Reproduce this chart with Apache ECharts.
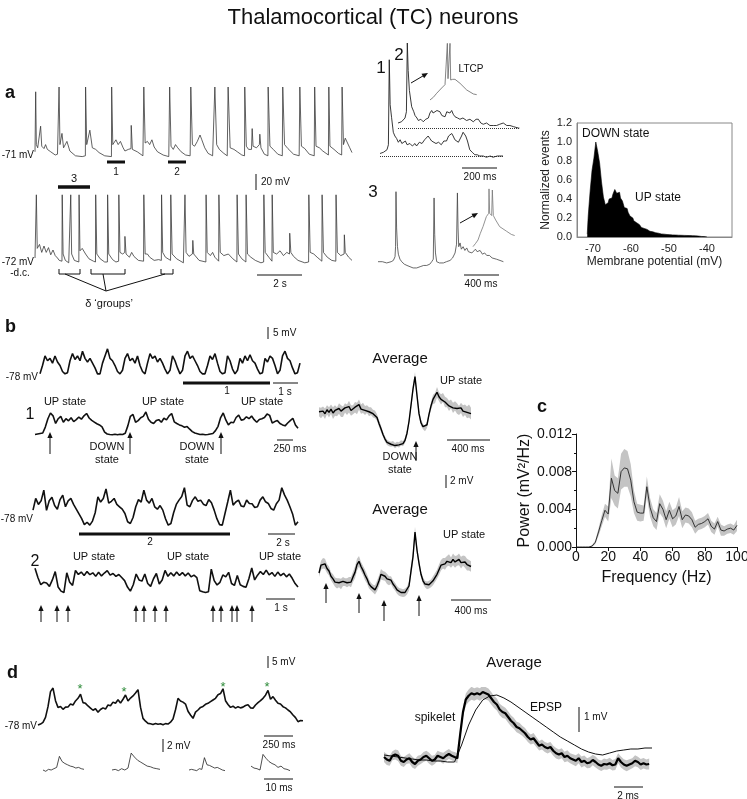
<!DOCTYPE html>
<html>
<head>
<meta charset="utf-8">
<title>Thalamocortical (TC) neurons</title>
<script src="https://cdn.jsdelivr.net/npm/echarts@6/dist/echarts.min.js"></script>
<style>
html, body { margin: 0; padding: 0; background: #fff; }
#fig { width: 747px; height: 799px; }
</style>
</head>
<body>
<div id="fig"></div>
<script>
var FONT = 'Liberation Sans, Arial, sans-serif';

// ---- panel a: long recordings, [time s, mV]
var aTop = [
  [0,-67],[0.02,-66],[0.03,8],[0.06,-58],[0.12,-62],[0.2,-62],[0.25,-35],[0.3,-60],[0.4,-63],[0.47,-58],[0.55,-64],[0.7,-67],[0.9,-71],[1.0,-70],
  [1.06,-70],[1.07,14],[1.11,-58],[1.2,-44],[1.27,-62],[1.42,-54],[1.55,-66],[1.8,-72],[2.1,-73],[2.24,-72],
  [2.25,14],[2.3,-58],[2.44,-40],[2.55,-62],[2.7,-64],[2.85,-68],[3.1,-72],[3.4,-73],
  [3.41,14],[3.46,-58],[3.6,-52],[3.7,-58],[3.8,-54],[3.92,-62],[4.0,-66],[4.15,-64],[4.27,-63],[4.28,-34],[4.33,-64],[4.55,-67],[4.8,-72],
  [4.84,14],[4.9,-56],[5.0,-54],[5.1,-58],[5.2,-52],[5.3,-61],[5.45,-67],[5.7,-71],[5.95,-73],
  [5.99,14],[6.05,-60],[6.15,-64],[6.25,-58],[6.35,-62],[6.5,-67],[6.7,-71],[6.9,-72],
  [6.93,14],[7.0,-58],[7.1,-60],[7.22,-54],[7.34,-46],[7.42,-52],[7.55,-62],[7.7,-69],[7.9,-72],
  [8.0,14],[8.08,-58],[8.2,-64],[8.4,-69],[8.55,-72],
  [8.59,14],[8.68,-62],[8.85,-64],[9.0,-67],[9.2,-71],[9.32,-72],
  [9.33,14],[9.4,-60],[9.5,-64],[9.63,-64],[9.66,-38],[9.7,-60],[9.85,-62],[9.98,-58],[10.0,-45],[10.05,-62],[10.2,-70],[10.36,-72],
  [10.37,14],[10.45,-60],[10.6,-64],[10.8,-70],[11.0,-72],
  [11.02,14],[11.1,-58],[11.25,-63],[11.5,-70],[11.75,-72],
  [11.78,14],[11.85,-60],[12.0,-63],[12.2,-70],[12.42,-72],
  [12.44,14],[12.5,-60],[12.65,-62],[12.8,-66],[13.05,-71],
  [13.07,14],[13.12,-60],[13.3,-64],[13.5,-69],[13.64,-71],
  [13.66,14],[13.72,-58],[13.8,-50],[13.9,-56],[14.0,-62],[14.1,-68]
];
var aBottom = [
  [0,-67],[0.05,-66],[0.06,12],[0.1,-55],[0.2,-50],[0.3,-60],[0.4,-52],[0.5,-60],[0.6,-54],[0.7,-63],[0.8,-57],[0.9,-64],[1.0,-67],[1.08,-70],
  [1.2,-71],[1.21,12],[1.25,-62],[1.35,-70],[1.5,-73],[1.58,-72],[1.59,12],[1.63,-62],[1.75,-70],[1.95,-72],[1.96,12],[2.0,-58],[2.1,-55],[2.25,-62],[2.4,-68],[2.6,-71],[2.69,-72],
  [2.7,12],[2.75,-62],[2.9,-68],[3.1,-72],[3.22,-72],[3.23,12],[3.28,-62],[3.45,-69],[3.6,-72],[3.72,-71],[3.73,12],[3.78,-60],[3.9,-62],[3.99,-60],[4.0,-40],[4.05,-62],[4.2,-66],[4.3,-60],[4.4,-65],[4.6,-70],[4.83,-71],
  [4.84,12],[4.9,-62],[5.0,-62],[5.1,-66],[5.3,-70],[5.5,-69],[5.62,-70],[5.63,12],[5.68,-60],[5.8,-66],[6.03,-70],[6.04,12],[6.1,-62],[6.3,-68],[6.6,-73],[6.66,-72],[6.67,12],[6.72,-60],[6.85,-65],[7.0,-62],[7.02,-45],[7.06,-62],[7.3,-70],[7.6,-72],
  [7.61,12],[7.66,-60],[7.8,-64],[7.9,-60],[8.0,-66],[8.17,-71],[8.18,12],[8.24,-60],[8.4,-64],[8.6,-62],[8.8,-68],[8.98,-72],[8.99,12],[9.05,-62],[9.2,-68],[9.38,-72],[9.39,12],[9.45,-62],[9.6,-66],[9.8,-70],[10.05,-73],[10.17,-72],
  [10.18,12],[10.24,-60],[10.4,-66],[10.54,-71],[10.55,12],[10.6,-60],[10.75,-62],[10.9,-58],[11.05,-64],[11.2,-60],[11.32,-62],[11.33,-36],[11.38,-60],[11.5,-65],[11.7,-70],[12.0,-73],[12.17,-72],
  [12.18,12],[12.24,-60],[12.4,-62],[12.55,-66],[12.76,-71],[12.77,12],[12.83,-60],[13.0,-66],[13.2,-70],[13.38,-71],[13.39,12],[13.45,-60],[13.6,-64],[13.75,-62],[13.76,-38],[13.8,-60],[13.95,-66],[14.1,-70]
];
// expanded segments 1, 2, LTCP, 3 [ms, mV]
var seg1 = [[0,-69],[20,-68],[40,-66],[48,-62],[53,6],[58,-30],[66,-40],[76,-52],[85,-55],[95,-57],[105,-60],[115,-58],[125,-61],[133,-61],[145,-59],[155,-62],[171,-61],[185,-63],[200,-61],[209,-63],[225,-60],[240,-61],[255,-58],[266,-58],[275,-55],[285,-57],[295,-59],[304,-59],[320,-61],[335,-60],[350,-62],[365,-59],[380,-59],[392,-55],[399,-56],[410,-53],[418,-55],[428,-58],[437,-57],[448,-60],[456,-59],[466,-55],[475,-52],[483,-53],[490,-55],[500,-59],[513,-66],[527,-68],[542,-70],[556,-70],[570,-71],[590,-71],[608,-72],[630,-71],[646,-72],[670,-71],[703,-71]];
var seg2 = [[0,-67],[20,-66],[40,-63],[48,-58],[53,-3],[58,-25],[65,-41],[78,-54],[90,-58],[97,-61],[108,-63],[116,-65],[130,-64],[144,-66],[158,-64],[173,-63],[182,-59],[192,-57],[200,-59],[211,-60],[222,-57],[239,-58],[250,-61],[268,-62],[278,-58],[287,-57],[296,-59],[306,-57],[315,-60],[325,-62],[340,-63],[353,-64],[370,-63],[391,-65],[410,-64],[429,-66],[445,-64],[458,-64],[472,-67],[486,-68],[505,-67],[524,-69],[545,-69],[562,-69],[580,-68],[600,-67],[620,-69],[638,-69],[660,-70],[686,-71],[692,-71]];
var ltcp = [[0,-70],[10,-66],[20,-60],[35,-52],[45,-47],[50,-44],[52,15],[54,-38],[58,-38],[60,15],[62,-40],[68,-39],[75,-39],[90,-45],[110,-55],[130,-61],[140,-62]];
var seg3 = [[0,-72],[50,-72],[99,-73],[150,-72],[175,-71],[194,-68],[200,-60],[205,-16],[212,-45],[222,-60],[232,-66],[250,-70],[270,-72],[300,-74],[330,-75],[365,-76],[400,-77],[441,-77],[480,-76],[520,-75],[555,-75],[590,-74],[612,-72],[630,-70],[639,-21],[646,-50],[655,-65],[669,-72],[700,-73],[745,-73],[780,-72],[821,-71],[850,-69],[878,-65],[895,-58],[905,-17],[912,-45],[920,-60],[935,-57],[950,-62],[970,-60],[990,-63],[1011,-61],[1030,-64],[1050,-63],[1070,-65],[1087,-64],[1110,-62],[1130,-64],[1163,-63],[1190,-66],[1215,-65],[1239,-67],[1270,-67],[1300,-69],[1315,-69],[1350,-70],[1390,-71],[1429,-72]];
var seg3Zoom = [[0,-70],[8,-67],[15,-64],[22,-58],[30,-52],[40,-43],[47,-40],[48,-18],[50,-40],[56,-42],[58,-19],[61,-42],[68,-46],[80,-52],[100,-56],[115,-59],[125,-60]];

// histogram of membrane potential
var histStart = -71.5, histStep = 0.5;
var histCounts = [0.03,0.22,0.48,0.7,0.83,1.0,0.9,0.78,0.58,0.42,0.34,0.36,0.4,0.41,0.45,0.5,0.46,0.47,0.41,0.38,0.31,0.3,0.26,0.22,0.2,0.17,0.15,0.13,0.12,0.1,0.09,0.08,0.07,0.06,0.055,0.05,0.045,0.04,0.035,0.032,0.03,0.028,0.026,0.025,0.024,0.022,0.021,0.02,0.019,0.018,0.018,0.017,0.016,0.015,0.015,0.014,0.013,0.012,0.01,0.009,0.006,0.004,0.002,0.0];

// ---- panel b: traces sampled at a fixed step (mV)
var bTop = [-77.5,-74,-70,-72,-71,-73,-70,-72.5,-74,-76.5,
  -77.5,-77,-72,-69,-71.5,-70,-72,-68,-71,-72.5,
  -71,-73,-75,-77.5,-77.5,-73,-70,-67,-71,-72,
  -74,-76.5,-77.5,-76,-71,-69,-72,-71,-73,-70,
  -74,-76.5,-77.5,-73,-69,-71,-70,-72.5,-71,-73,
  -75.5,-77.5,-76,-70,-72,-75,-77.5,-76,-70,-68,
  -71,-70,-72,-74,-76.5,-77.5,-77.5,-74,-70,-71.5,
  -69,-73,-76.5,-77.5,-77,-70,-72,-75.5,-77.5,-76,
  -71,-73,-70,-72,-69.5,-72,-73,-75.5,-77.5,-77,
  -71,-72.5,-70,-71,-74,-77.5,-76,-70,-68,-71,
  -72,-75,-77.5,-77,-73];
var b1 = [-78.6,-78.4,-78.2,-78,-75.5,-72,-69.6,-70.8,-74,-72,
  -71,-73.5,-72,-72.9,-71.6,-73.2,-72.4,-71.3,-72.2,-70.8,
  -69.8,-71.7,-72.7,-73.4,-74.1,-74.6,-75.4,-77.6,-78.4,-78.6,
  -78.7,-78.5,-78.7,-78.5,-78.6,-78.1,-75,-71,-70.2,-73.5,
  -72.8,-71.6,-71,-69.2,-72.2,-73.5,-74,-72.8,-72.4,-73.5,
  -71.8,-72.5,-70.8,-69.8,-73.3,-74,-74.6,-75,-75.6,-75.3,
  -76.4,-77.4,-78,-78.3,-78.6,-78.5,-78.7,-78.6,-78.4,-78.2,
  -77,-75.2,-71.5,-69.6,-72.5,-74.6,-73.5,-73.7,-71.5,-70.5,
  -72.6,-72.3,-71.2,-72,-70.9,-72.4,-73.5,-72.3,-72,-71.5,
  -70,-70.6,-73.8,-73.2,-72.8,-74,-74.6,-75,-73.8,-72.8,
  -71.8,-74.6,-76];
var b2Top = [-70.9,-66,-68.5,-67,-62.5,-71,-67,-65.5,-69,-70.5,
  -66.5,-64.6,-69.5,-67,-66,-68.5,-70.5,-72.5,-74.5,-77,
  -76,-77.2,-75.5,-72,-65.3,-67.5,-66,-62,-68,-67.2,
  -66,-68.5,-69.5,-70.5,-72.3,-75.8,-76.5,-74,-69.5,-66.5,
  -67.5,-62.5,-66.7,-68,-66,-69.5,-70.5,-69,-70.9,-74.5,
  -77.2,-76.5,-72,-68.5,-66.7,-65.2,-61.5,-68.8,-69.5,-66.8,
  -65.3,-67.2,-66.7,-68.4,-69,-66.5,-67.8,-70.9,-74.5,-77,
  -77.2,-72.3,-67.5,-62.5,-68.8,-67.5,-66.7,-69.2,-69.5,-66.7,
  -68.1,-68.2,-69.8,-69.5,-66.7,-65.3,-67.4,-68.1,-70.2,-70.9,
  -68.2,-66.7,-61.5,-64.5,-66.7,-69.5,-72.5,-77.2,-75.8];
var b2 = [-67.6,-71.5,-74.5,-73.5,-73.8,-75.2,-72.5,-69,-75.5,-77.2,
  -77.8,-69.5,-73.5,-74.8,-68.5,-70.2,-69.2,-70.6,-69,-70.3,
  -69.5,-71,-69.3,-70.8,-69.6,-68.6,-70.5,-69.8,-71,-70.2,
  -71.5,-72.8,-75.5,-77.2,-74.5,-70,-72.5,-73,-70,-74,
  -75.2,-72,-69.8,-74.2,-72.5,-68.5,-71,-69.5,-70.8,-69.2,
  -70.6,-69.4,-70.8,-69.6,-71.2,-70.5,-71.5,-77,-77.5,-77.8,
  -77.5,-68,-72.8,-74.6,-73.5,-70.4,-71.2,-69.3,-74,-74.8,
  -70.6,-74.5,-75.2,-75.6,-72,-67.5,-72.5,-70.5,-69,-70.2,
  -68.4,-70.4,-69.4,-71,-69.2,-70.7,-69.7,-71.2,-70,-71.8,
  -74,-75.5];
// averages (relative mV) and their spread
var avg1 = [0.5,0.3,0.6,0.2,0.8,0.4,0.9,0.3,0.7,0.5,
  1.0,0.6,0.5,1.1,0.8,1.3,0.7,0.8,1.2,1.0,
  1.6,0.9,1.1,0.7,0.9,0.5,0.6,0.2,0.1,-0.4,
  -1.3,-2.1,-3.0,-3.7,-4.2,-4.4,-4.5,-4.4,-4.7,-4.5,
  -4.6,-4.3,-4.4,-3.9,-2.8,-1.0,1.5,4.0,5.9,3.0,
  0.2,-1.2,-1.8,-2.1,-1.5,0.1,1.4,2.4,2.6,3.5,
  2.8,2.4,2.7,2.0,1.9,1.4,1.7,1.1,1.4,1.0,
  0.7,1.1,0.6,0.8,0.4,0.6,0.2];
var avg1Sd = [0.7,0.8,0.7,0.8,0.7,0.8,0.7,0.9,0.8,0.7,
  0.8,0.9,0.8,0.7,0.8,0.9,0.8,0.7,0.8,0.9,
  0.8,0.7,0.8,0.7,0.6,0.7,0.6,0.6,0.6,0.5,
  0.5,0.5,0.4,0.4,0.4,0.4,0.4,0.4,0.4,0.4,
  0.4,0.4,0.4,0.4,0.5,0.5,0.6,0.7,0.7,0.6,
  0.5,0.5,0.4,0.4,0.5,0.5,0.6,0.7,0.8,0.8,
  0.7,0.8,0.7,0.8,0.7,0.8,0.7,0.8,0.7,0.8,
  0.7,0.8,0.9,0.8,0.9,1.0,0.9];
var avg2 = [0.0,1.2,1.5,1.4,0.7,0.3,-0.5,-0.9,-1.4,-1.6,
  -1.5,-1.7,-1.3,-1.4,-1.5,-1.3,-1.4,-0.6,0.1,1.3,
  1.8,1.0,0.4,-0.3,-0.9,-1.7,-2.1,-2.4,-2.6,-2.0,
  -1.2,-0.2,-0.4,-0.5,-0.9,-1.2,-1.1,-1.7,-2.1,-2.6,
  -2.9,-3.0,-3.1,-3.0,-2.7,-2.0,0.3,2.5,6.3,3.5,
  1.5,-0.2,-1.2,-1.7,-1.9,-1.8,-1.6,-1.2,-0.7,-0.2,
  0.5,1.2,1.5,1.4,1.8,2.0,1.6,2.1,1.7,1.9,
  2.1,1.6,1.9,1.7,1.3,1.2,1.0];
var avg2Sd = [0.6,0.7,0.8,0.8,0.7,0.7,0.6,0.7,0.7,0.8,
  0.7,0.8,0.7,0.6,0.7,0.7,0.8,0.8,0.9,0.9,
  0.8,0.7,0.7,0.8,0.7,0.7,0.6,0.6,0.7,0.8,
  0.8,0.8,0.7,0.7,0.8,0.7,0.6,0.6,0.6,0.6,
  0.6,0.6,0.6,0.6,0.6,0.7,0.8,0.9,0.8,0.7,
  0.6,0.5,0.5,0.5,0.6,0.6,0.6,0.7,0.7,0.7,
  0.8,0.8,0.8,0.9,0.8,0.9,0.8,0.9,0.9,0.8,
  0.9,0.9,0.8,0.9,0.9,0.8,0.8];

// ---- panel c: power spectrum
var freqs = [0,2,4,6,8,10,12,14,16,18,20,22,24,26,28,30,32,34,36,38,40,42,44,46,48,50,52,54,56,58,60,62,64,66,68,70,72,74,76,78,80,82,84,86,88,90,92,94,96,98,100];
var power = [0,0,0,0,0,0.0001,0.0005,0.0016,0.0028,0.0039,
  0.0035,0.0073,0.006,0.0057,0.008,0.0084,0.0083,0.0071,0.0048,0.0037,
  0.0036,0.0036,0.0064,0.0042,0.0031,0.0027,0.0046,0.004,0.0029,0.0039,
  0.003,0.0033,0.0043,0.0029,0.0034,0.0033,0.0029,0.0021,0.0024,0.0025,
  0.0027,0.003,0.0022,0.0019,0.0027,0.0018,0.0017,0.0019,0.002,0.0018,
  0.0023];
var powerSem = [0,0,0,0,0,0.0001,0.0002,0.0004,0.0006,0.0007,
  0.0008,0.0021,0.0016,0.0016,0.0019,0.002,0.0019,0.0017,0.0012,0.0009,
  0.0009,0.0008,0.0011,0.001,0.0009,0.0009,0.001,0.0009,0.0009,0.0009,
  0.0009,0.0009,0.001,0.0009,0.0008,0.0008,0.0008,0.0007,0.0006,0.0006,
  0.0006,0.0006,0.0006,0.0006,0.0005,0.0006,0.0005,0.0005,0.0005,0.0005,
  0.0006];

// ---- panel d
var dTrace = [-78,-77.6,-76.9,-74.8,-70.3,-64,-62.5,-67.8,-70.6,-70.2,
  -71.4,-70.5,-70.4,-69.2,-69.6,-67.9,-66.8,-65.1,-68.6,-68.9,
  -70,-70.9,-71.8,-71.2,-72.6,-71.5,-70.8,-71.3,-69.6,-69.9,
  -68.4,-68.9,-67.4,-68.8,-67.2,-65.4,-67.9,-66.7,-65.8,-64.6,
  -63.2,-70.5,-75.2,-76.4,-77.3,-77.5,-77.8,-77.4,-77.7,-77.5,
  -77.9,-77.4,-77.6,-76.8,-75.5,-71.6,-66.8,-67.9,-68.4,-69.2,
  -72.2,-73.8,-75.2,-72.6,-71.7,-70.6,-70.2,-69.3,-68.9,-68.2,
  -67.5,-66.8,-65.3,-64.8,-62.8,-67.8,-69.4,-70.6,-70.1,-70.9,
  -70.3,-70.8,-70.5,-69.8,-69.5,-70.8,-71,-69.6,-68.6,-67.8,
  -66.8,-65.5,-63.5,-67.2,-66.1,-67.6,-68.9,-69.2,-70.3,-70.8,
  -71.7,-72.5,-73.8,-74.9,-76.6,-76.1,-76.2];
var spk1 = [0,-0.2,0.1,0,0.2,0.4,2.1,1.3,1.0,0.8,0.6,0.5,0.3,0.4,0.2,0.1];
var spk2 = [0,0.1,-0.1,0.2,0,0.3,2.6,2.0,1.5,1.2,0.9,0.6,0.5,0.3,0.2,0.1];
var spk3 = [0,0.1,0,-0.1,0.2,0.1,1.9,0.8,0.7,0.5,0.3,0.4,0.2,0,-0.1];
var spk4 = [0.6,0.3,0.2,0,2.4,1.8,1.3,1.0,0.8,0.4,0.6,0.2,0.1,-0.1];
var spikeletAvg = [0.0,-0.1,-0.15,0.05,0.1,0.05,-0.15,-0.2,-0.1,-0.05,
  -0.2,-0.28,-0.15,-0.1,0.0,0.05,-0.05,-0.15,-0.1,0.05,
  0.0,-0.05,0.05,0.12,0.05,0.0,-0.05,0.9,1.8,2.3,
  2.45,2.55,2.5,2.55,2.5,2.6,2.55,2.5,2.35,2.2,
  2.1,1.9,1.8,1.75,1.6,1.45,1.35,1.2,1.15,1.05,
  0.95,0.8,0.7,0.75,0.6,0.45,0.5,0.4,0.35,0.4,
  0.25,0.15,0.1,0.15,0.0,0.05,-0.05,-0.1,-0.15,-0.05,
  -0.2,-0.15,-0.25,-0.22,-0.12,-0.2,-0.3,-0.35,-0.28,-0.3,
  -0.25,-0.33,-0.3,-0.05,-0.2,-0.3,-0.35,-0.3,-0.25,-0.15,
  -0.2,-0.3,-0.25,-0.3,-0.28];
var spikeletSd = [0.2,0.22,0.2,0.18,0.2,0.22,0.2,0.2,0.18,0.2,
  0.22,0.2,0.2,0.18,0.2,0.2,0.22,0.2,0.18,0.2,
  0.2,0.22,0.2,0.2,0.18,0.2,0.2,0.2,0.22,0.24,
  0.25,0.26,0.25,0.24,0.25,0.26,0.25,0.24,0.25,0.24,
  0.24,0.23,0.24,0.22,0.23,0.22,0.22,0.21,0.22,0.2,
  0.21,0.2,0.2,0.21,0.2,0.19,0.2,0.2,0.21,0.2,
  0.2,0.21,0.2,0.2,0.21,0.22,0.2,0.21,0.22,0.2,
  0.22,0.21,0.2,0.22,0.21,0.22,0.2,0.21,0.22,0.21,
  0.22,0.21,0.22,0.2,0.22,0.21,0.22,0.21,0.2,0.22,
  0.21,0.22,0.21,0.2,0.22];
var epspAvg = [0.08,0.04,0,-0.04,-0.08,-0.12,-0.12,-0.16,-0.16,-0.2,
  -0.2,0.48,1.28,1.88,2.28,2.44,2.48,2.36,2.2,2.0,
  1.8,1.6,1.4,1.2,1.0,0.8,0.64,0.48,0.32,0.2,
  0.12,0.08,0.16,0.24,0.28,0.32,0.32,0.36,0.36];

// ------------------------------------------------------------------
var grids = [], xAxes = [], yAxes = [], series = [], G = [];

function seq(vals, dt) {
  var out = [];
  for (var i = 0; i < vals.length; i++) out.push([Math.round(i * dt * 1000) / 1000, vals[i]]);
  return out;
}
function panel(box, xr, yr) {
  var k = grids.length;
  grids.push({ left: box[0], top: box[1], width: box[2], height: box[3], containLabel: false, outerBoundsMode: 'none' });
  xAxes.push({ type: 'value', gridIndex: k, min: xr[0], max: xr[1], show: false });
  yAxes.push({ type: 'value', gridIndex: k, min: yr[0], max: yr[1], show: false });
  return k;
}
function trace(k, data, color, width, extra) {
  var s = { type: 'line', xAxisIndex: k, yAxisIndex: k, data: data, symbol: 'none', silent: true,
    lineStyle: { color: color, width: width }, z: 3 };
  for (var p in (extra || {})) s[p] = extra[p];
  series.push(s);
}
// shaded spread drawn as one polygon through the axis scales
function band(k, xs, mean, half, color, floor) {
  var up = [], lo = [];
  for (var i = 0; i < mean.length; i++) {
    var a = mean[i] - half[i];
    if (floor !== undefined) a = Math.max(floor, a);
    up.push([xs[i], mean[i] + half[i]]);
    lo.push([xs[i], a]);
  }
  series.push({ type: 'custom', xAxisIndex: k, yAxisIndex: k, silent: true, z: 2, clip: true,
    data: [[xs[0], mean[0]]],
    renderItem: function (params, api) {
      var pts = [];
      for (var i = 0; i < up.length; i++) pts.push(api.coord(up[i]));
      for (var j = lo.length - 1; j >= 0; j--) pts.push(api.coord(lo[j]));
      return { type: 'polygon', shape: { points: pts }, style: { fill: color, stroke: null } };
    } });
}
function T(x, y, s, o) {
  o = o || {};
  var al = o.align || 'center';
  G.push({ type: 'text', x: x, y: y, silent: true, z: 10, style: {
    text: s, fontSize: o.size || 11, fontWeight: o.bold ? 'bold' : 'normal', fontFamily: FONT,
    fill: o.color || '#111', textAlign: al, align: al, textVerticalAlign: 'middle', verticalAlign: 'middle' } });
}
function L(x1, y1, x2, y2, w) {
  G.push({ type: 'line', silent: true, z: 10, shape: { x1: x1, y1: y1, x2: x2, y2: y2 }, style: { stroke: '#111', lineWidth: w || 1 } });
}
function P(pts) {
  G.push({ type: 'polyline', silent: true, z: 10, shape: { points: pts }, style: { stroke: '#111', lineWidth: 1, fill: null } });
}
function A(x1, y1, x2, y2) {
  var dx = x2 - x1, dy = y2 - y1, n = Math.sqrt(dx * dx + dy * dy), ux = dx / n, uy = dy / n;
  var h = 6, w = 2.6;
  L(x1, y1, x2 - ux * h * 0.6, y2 - uy * h * 0.6, 1);
  G.push({ type: 'polygon', silent: true, z: 10, shape: { points: [
    [x2, y2], [x2 - ux * h - uy * w, y2 - uy * h + ux * w], [x2 - ux * h + uy * w, y2 - uy * h - ux * w]] },
    style: { fill: '#111' } });
}

// ---- panel a
var k;
k = panel([35, 85.4, 317, 72.8], [0, 14.1], [-75, 16]);
trace(k, aTop, '#3a3a3a', 0.8);
k = panel([35, 191.6, 317, 73.6], [0, 14.1], [-76, 16]);
trace(k, aBottom, '#3a3a3a', 0.8);
k = panel([380, 54.75, 123, 106.25], [0, 703], [-75, 10]);
trace(k, seg1, '#222', 0.9, { markLine: { silent: true, symbol: 'none', label: { show: false }, lineStyle: { type: 'dotted', color: '#333', width: 1 }, data: [{ yAxis: -71 }] } });
k = panel([398, 39.25, 121.4, 93.75], [0, 692], [-75, 0]);
trace(k, seg2, '#222', 0.9, { markLine: { silent: true, symbol: 'none', label: { show: false }, lineStyle: { type: 'dotted', color: '#333', width: 1 }, data: [{ yAxis: -71 }] } });
k = panel([430, 42.7, 46.7, 58.6], [0, 140], [-72, 16]);
trace(k, ltcp, '#666', 0.8);
k = panel([378, 189.2, 125.4, 82.5], [0, 1429], [-80, -14]);
trace(k, seg3, '#444', 0.8);
k = panel([473, 186.67, 41.67, 62.2], [0, 125], [-72, -16]);
trace(k, seg3Zoom, '#777', 0.8);

// histogram
k = grids.length;
grids.push({ left: 577, top: 123, width: 155, height: 114, containLabel: false, outerBoundsMode: 'none', show: true, borderColor: '#888', borderWidth: 1, backgroundColor: 'transparent' });
xAxes.push({ type: 'value', gridIndex: k, min: -74.2, max: -33.4,
  axisLine: { show: true, lineStyle: { color: '#888' } }, axisTick: { show: false }, splitLine: { show: false },
  axisLabel: { fontSize: 11, color: '#222', margin: 6, showMinLabel: false, showMaxLabel: false,
    formatter: function (v) { return v % 10 === 0 ? String(v) : ''; } },
  name: 'Membrane potential (mV)', nameLocation: 'middle', nameGap: 19, nameTextStyle: { fontSize: 12, color: '#222' } });
yAxes.push({ type: 'value', gridIndex: k, min: 0, max: 1.2, interval: 0.2,
  axisLine: { show: true, lineStyle: { color: '#888' } }, axisTick: { show: false }, splitLine: { show: false },
  axisLabel: { fontSize: 11, color: '#222', margin: 5, formatter: function (v) { return v.toFixed(1); } },
  name: 'Normalized events', nameLocation: 'middle', nameRotate: 90, nameGap: 25, nameTextStyle: { fontSize: 12, color: '#222' } });
var histData = histCounts.map(function (c, i) { return [histStart + i * histStep, c]; });
trace(k, histData, '#000', 0.6, { step: 'middle', areaStyle: { color: '#000', opacity: 1 } });

// ---- panel b
k = panel([40, 341.7, 260, 38.1], [0, 10.4], [-80, -64]);
trace(k, seq(bTop, 0.1), '#111', 1.6);
k = panel([35, 404.4, 263, 33.4], [0, 4.08], [-80, -66]);
trace(k, seq(b1, 0.04), '#111', 1.6);
k = panel([33, 479.4, 265, 52.4], [0, 19.6], [-80, -58]);
trace(k, seq(b2Top, 0.2), '#111', 1.6);
k = panel([35, 559.7, 263, 38.1], [0, 9.1], [-80, -64]);
trace(k, seq(b2, 0.1), '#111', 1.6);
var avgT = seq(avg1, 20).map(function (p) { return p[0]; });
k = panel([319, 369.5, 152, 84.5], [0, 1520], [-6, 7]);
band(k, avgT, avg1, avg1Sd, '#c4c4c4');
trace(k, seq(avg1, 20), '#000', 1.4);
k = panel([319, 524.25, 152, 81.25], [0, 1520], [-5, 7.5]);
band(k, avgT, avg2, avg2Sd, '#c4c4c4');
trace(k, seq(avg2, 20), '#000', 1.4);

// ---- panel c
k = grids.length;
grids.push({ left: 576, top: 434, width: 161, height: 113, containLabel: false, outerBoundsMode: 'none' });
xAxes.push({ type: 'value', gridIndex: k, min: 0, max: 100, interval: 20,
  axisLine: { show: true, lineStyle: { color: '#111' } }, axisTick: { show: true, length: 4, lineStyle: { color: '#111' } }, splitLine: { show: false },
  axisLabel: { fontSize: 14, color: '#111', margin: 3 },
  name: 'Frequency (Hz)', nameLocation: 'middle', nameGap: 23, nameTextStyle: { fontSize: 16, color: '#111' } });
yAxes.push({ type: 'value', gridIndex: k, min: 0, max: 0.012, interval: 0.004,
  axisLine: { show: true, lineStyle: { color: '#111' } }, axisTick: { show: true, length: 4, lineStyle: { color: '#111' } },
  minorTick: { show: true, splitNumber: 2, length: 2, lineStyle: { color: '#111' } }, splitLine: { show: false },
  axisLabel: { fontSize: 14, color: '#111', margin: 4, formatter: function (v) { return v.toFixed(3); } },
  name: 'Power (mV\u00b2/Hz)', nameLocation: 'middle', nameRotate: 90, nameGap: 40, nameTextStyle: { fontSize: 16, color: '#111' } });
band(k, freqs, power, powerSem, '#c4c4c4', 0);
trace(k, freqs.map(function (f, i) { return [f, power[i]]; }), '#222', 0.9);

// ---- panel d
k = panel([38, 682.1, 265, 47.7], [0, 2.12], [-80, -60]);
trace(k, seq(dTrace, 0.02), '#111', 1.6);
k = panel([43, 750.5, 41, 22.75], [0, 15], [-0.5, 3]);
trace(k, seq(spk1, 1), '#222', 0.8);
k = panel([112, 750.5, 48, 22.75], [0, 15], [-0.5, 3]);
trace(k, seq(spk2, 1), '#222', 0.8);
k = panel([189, 750.5, 36, 22.75], [0, 14], [-0.5, 3]);
trace(k, seq(spk3, 1), '#222', 0.8);
k = panel([251, 750.5, 39, 22.75], [0, 13], [-0.5, 3]);
trace(k, seq(spk4, 1), '#222', 0.8);
k = panel([384, 687, 268, 85], [0, 19], [-0.6, 2.8]);
band(k, seq(spikeletAvg, 0.2).map(function (p) { return p[0]; }), spikeletAvg, spikeletSd, '#c4c4c4');
trace(k, seq(epspAvg, 0.5), '#111', 1);
trace(k, seq(spikeletAvg, 0.2), '#000', 2.2);

// ---- annotations
T(373, 18, 'Thalamocortical (TC) neurons', { size: 22 });
// a
T(5, 93, 'a', { size: 18, bold: true, align: 'left' });
T(34, 155, '-71 mV', { size: 10, align: 'right' });
L(107, 162, 125, 162, 3); T(116, 172, '1', { size: 10 });
L(168, 162, 186, 162, 3); T(177, 172, '2', { size: 10 });
L(58, 187, 90, 187, 3.5); T(74, 179, '3', { size: 11 });
L(256, 174, 256, 190, 1); T(261, 182, '20 mV', { size: 10, align: 'left' });
T(34, 262, '-72 mV', { size: 10, align: 'right' });
T(20, 273, '-d.c.', { size: 10 });
L(257, 275, 302, 275, 1); T(280, 284, '2 s', { size: 10 });
P([[59, 269], [59, 274], [80, 274], [80, 269]]);
P([[91, 269], [91, 274], [125, 274], [125, 269]]);
P([[161, 269], [161, 274], [173, 274], [173, 269]]);
L(65, 274, 106, 291); L(103, 274, 106, 291); L(165, 274, 106, 291);
T(109, 304, '\u03b4 \u2018groups\u2019', { size: 11 });
T(381, 68, '1', { size: 17 });
T(399, 55, '2', { size: 17 });
A(411, 83, 428, 73);
T(471, 69, 'LTCP', { size: 10 });
L(462, 168, 497, 168); T(480, 177, '200 ms', { size: 10 });
T(373, 192, '3', { size: 17 });
A(460, 223, 478, 213);
L(464, 275, 499, 275); T(481, 284, '400 ms', { size: 10 });
T(582, 134, 'DOWN state', { size: 12, align: 'left' });
T(635, 198, 'UP state', { size: 12, align: 'left' });
// b
T(5, 327, 'b', { size: 18, bold: true, align: 'left' });
L(268, 327, 268, 339); T(273, 333, '5 mV', { size: 10, align: 'left' });
T(38, 377, '-78 mV', { size: 10, align: 'right' });
L(183, 383, 270, 383, 3); T(227, 391, '1', { size: 10 });
L(273, 383, 298, 383); T(285, 392, '1 s', { size: 10 });
T(30, 415, '1', { size: 16 });
[65, 163, 262].forEach(function (x) { T(x, 402, 'UP state', { size: 11 }); });
[50, 130, 221].forEach(function (x) { A(x, 454, x, 432); });
[107, 197].forEach(function (x) { T(x, 447, 'DOWN', { size: 11 }); T(x, 460, 'state', { size: 11 }); });
L(277, 440, 293, 440); T(290, 449, '250 ms', { size: 10 });
T(400, 359, 'Average', { size: 15 });
T(440, 381, 'UP state', { size: 11, align: 'left' });
A(416, 461, 416, 441);
T(400, 457, 'DOWN', { size: 11 }); T(400, 470, 'state', { size: 11 });
L(447, 440, 490, 440); T(468, 449, '400 ms', { size: 10 });
L(446, 475, 446, 488); T(450, 481, '2 mV', { size: 10, align: 'left' });
T(33, 519, '-78 mV', { size: 10, align: 'right' });
L(79, 534, 230, 534, 3); T(150, 542, '2', { size: 10 });
L(268, 534, 295, 534); T(283, 543, '2 s', { size: 10 });
T(35, 562, '2', { size: 16 });
[94, 188, 280].forEach(function (x) { T(x, 557, 'UP state', { size: 11 }); });
[41, 57, 68, 136, 144, 155, 166, 213, 221, 232, 237, 252].forEach(function (x) { A(x, 622, x, 605); });
L(266, 599, 295, 599); T(281, 608, '1 s', { size: 10 });
T(400, 510, 'Average', { size: 15 });
T(443, 535, 'UP state', { size: 11, align: 'left' });
A(326, 603, 326, 583); A(359, 613, 359, 593); A(384, 621, 384, 600); A(419, 616, 419, 595);
L(451, 600, 491, 600); T(471, 611, '400 ms', { size: 10 });
// c
T(537, 407, 'c', { size: 18, bold: true, align: 'left' });
// d
T(7, 673, 'd', { size: 18, bold: true, align: 'left' });
T(37, 726, '-78 mV', { size: 10, align: 'right' });
L(268, 656, 268, 668); T(272, 662, '5 mV', { size: 10, align: 'left' });
[[80, 689], [124, 692], [223, 687], [267, 687]].forEach(function (p) { T(p[0], p[1], '*', { size: 13, color: '#2e8b3a' }); });
L(264, 736, 293, 736); T(279, 745, '250 ms', { size: 10 });
L(163, 739, 163, 752); T(167, 746, '2 mV', { size: 10, align: 'left' });
L(264, 779, 293, 779); T(279, 788, '10 ms', { size: 10 });
T(514, 663, 'Average', { size: 15 });
T(435, 718, 'spikelet', { size: 12 });
T(546, 708, 'EPSP', { size: 12 });
L(579, 707, 579, 732); T(584, 717, '1 mV', { size: 10, align: 'left' });
L(614, 787, 643, 787); T(628, 796, '2 ms', { size: 10 });

var chart = echarts.init(document.getElementById('fig'), null, { renderer: 'canvas' });
chart.setOption({
  animation: false,
  backgroundColor: '#fff',
  textStyle: { fontFamily: FONT },
  grid: grids,
  xAxis: xAxes,
  yAxis: yAxes,
  series: series,
  graphic: { elements: G }
});
</script>
</body>
</html>
